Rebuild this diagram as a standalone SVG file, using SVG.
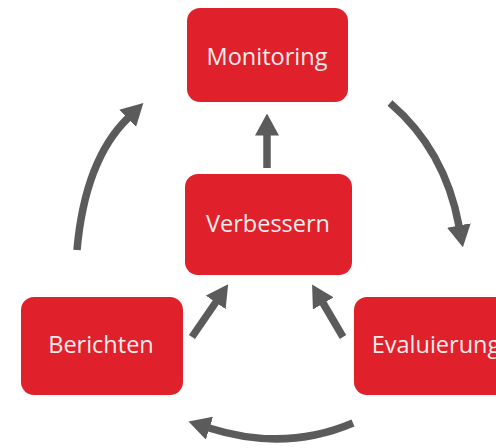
<svg xmlns="http://www.w3.org/2000/svg" width="496" height="448" viewBox="0 0 496 448">
<style>
.box{fill:#e0202b;}
.lbl{font-family:"Open Sans","Liberation Sans",sans-serif;font-size:23.5px;fill:#f8ecec;text-anchor:middle;}
.arr{fill:none;stroke:#5b5b5b;stroke-width:7.5;marker-end:url(#head);}
</style>
<defs>
<marker id="head" markerUnits="userSpaceOnUse" viewBox="0 0 22 24" markerWidth="22" markerHeight="24" refX="0.5" refY="12" orient="auto">
<path d="M0,0 L22,12 L0,24 z" fill="#5b5b5b"/>
</marker>
</defs>
<rect width="496" height="448" fill="#ffffff"/>
<g id="connectors">
<path class="arr" d="M77,250 Q85,160 128,118"/>
<path class="arr" d="M390,103 Q445,150 459,226"/>
<path class="arr" d="M353,423 Q285,452 209,428"/>
<path class="arr" d="M192,337 L216,302"/>
<path class="arr" d="M343,337 L323,303"/>
<path class="arr" d="M267,168 L267,135"/>
</g>
<g id="monitoring">
<rect class="box" x="187" y="8" width="161" height="94" rx="13"/>
<text class="lbl" x="267" y="65">Monitoring</text>
</g>
<g id="verbessern">
<rect class="box" x="185" y="174" width="167" height="101" rx="13"/>
<text class="lbl" x="268" y="232">Verbessern</text>
</g>
<g id="berichten">
<rect class="box" x="21" y="297" width="162" height="98" rx="13"/>
<text class="lbl" x="101" y="353">Berichten</text>
</g>
<g id="evaluierung">
<rect class="box" x="354" y="297" width="162" height="98" rx="13"/>
<text class="lbl" x="436" y="353">Evaluierung</text>
</g>
</svg>
